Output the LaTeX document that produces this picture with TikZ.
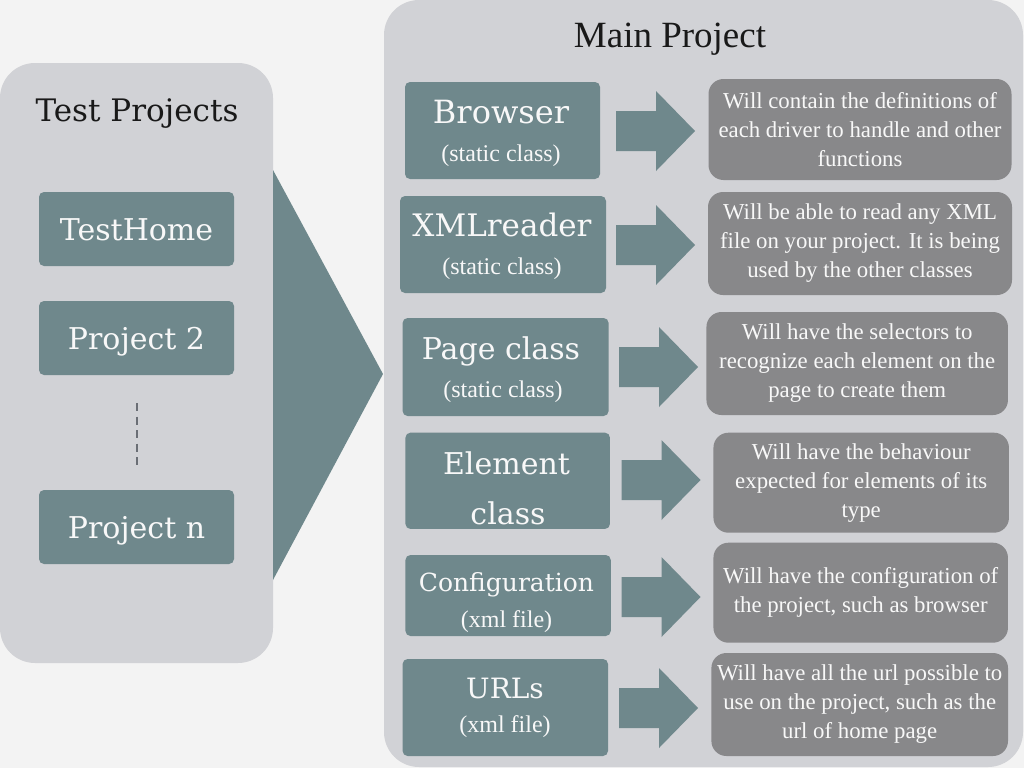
\documentclass[tikz,border=0pt]{standalone}
\usepackage{fontspec}
\setmainfont{Liberation Serif}
\newfontfamily\dvs{DejaVu Serif}
\definecolor{bgc}{HTML}{F3F3F3}
\definecolor{panelc}{HTML}{D1D2D6}
\definecolor{tealc}{HTML}{6F888C}
\definecolor{descc}{HTML}{88888A}
\definecolor{dashc}{HTML}{6A6E75}
\definecolor{lightc}{HTML}{F8F8F8}
\newcommand\blkarrow[1]{%
  \fill[blk] (#1) ++(0,-20) -- ++(40,0) -- ++(0,-20) -- ++(39,40)
    -- ++(-39,40) -- ++(0,-20) -- ++(-40,0) -- cycle;}
\begin{document}
\begin{tikzpicture}[x=1pt,y=-1pt,
  panel/.style={fill=panelc, rounded corners=35pt, inner sep=0pt},
  tbox/.style={fill=tealc, rounded corners=5pt, inner sep=0pt},
  lbox/.style={tbox, text=lightc, font=\dvs\fontsize{30}{30}\selectfont,
    text height=22pt, text depth=0pt, minimum width=195pt, minimum height=74pt},
  desc/.style={fill=descc, rounded corners=15pt, text=lightc, align=center,
    font=\fontsize{22.8}{29}\selectfont, inner sep=0pt},
  ttl/.style={text=lightc, anchor=base, inner sep=0pt},
  sub/.style={text=lightc, anchor=base, inner sep=0pt, font=\fontsize{24}{24}\selectfont},
  head/.style={text=black!90, anchor=base, inner sep=0pt},
  blk/.style={fill=tealc}
]
\fill[bgc] (0,0) rectangle (1024,768);
\useasboundingbox (0,0) rectangle (1024,768);

% panels
\node[panel, minimum width=273pt, minimum height=600pt] (left) at (136.5,363) {};
\node[panel, minimum width=639pt, minimum height=767pt] (main) at (703.5,383.5) {};

% titles
\node[head, font=\dvs\fontsize{31}{31}\selectfont] (tpt) at (137,121) {Test Projects};
\node[head, font=\fontsize{37}{37}\selectfont] (mpt) at (670,48) {Main Project};

% big triangle
\coordinate (trA) at (273,170);
\coordinate (trB) at (383,374);
\coordinate (trC) at (273,580);
\fill[tealc] (trA) -- (trB) -- (trC) -- cycle;

% left boxes
\node[lbox] (l1) at (136.5,229) {TestHome};
\node[lbox] (l2) at (136.5,338) {Project 2};
\node[lbox] (l3) at (136.5,527) {Project n};
\coordinate (dA) at (136.7,403);
\coordinate (dB) at (136.7,465);
\draw[dashc, line width=1.8pt, dash pattern=on 8pt off 5.5pt] (dA) -- (dB);

% main boxes
\node[tbox, minimum width=195pt, minimum height=97pt] (b1) at (502.5,130.5) {};
\node[tbox, minimum width=206pt, minimum height=97pt] (b2) at (503,244.5) {};
\node[tbox, minimum width=206pt, minimum height=98pt] (b3) at (505.6,367) {};
\node[tbox, minimum width=204.5pt, minimum height=96.3pt] (b4) at (507.7,480.8) {};
\node[tbox, minimum width=205.3pt, minimum height=81pt] (b5) at (508.1,595.5) {};
\node[tbox, minimum width=205.4pt, minimum height=97pt] (b6) at (505.3,707.5) {};

\node[ttl, font=\dvs\fontsize{32}{32}\selectfont] (b1t) at (501,123) {Browser};
\node[sub] (b1s) at (501,161) {(static class)};
\node[ttl, font=\dvs\fontsize{31}{31}\selectfont] (b2t) at (502,236) {XMLreader};
\node[sub] (b2s) at (502,274) {(static class)};
\node[ttl, font=\dvs\fontsize{30}{30}\selectfont] (b3t) at (501,359) {Page class};
\node[sub] (b3s) at (503,397) {(static class)};
\node[ttl, font=\dvs\fontsize{30}{30}\selectfont] (b4t) at (506.5,474) {Element};
\node[ttl, font=\dvs\fontsize{30}{30}\selectfont] (b4u) at (508,524) {class};
\node[ttl, font=\dvs\fontsize{25}{25}\selectfont] (b5t) at (506.5,591) {Configuration};
\node[sub] (b5s) at (506.5,627) {(xml file)};
\node[ttl, font=\dvs\fontsize{28}{28}\selectfont] (b6t) at (505,698) {URLs};
\node[sub] (b6s) at (505,732) {(xml file)};

% block arrows
\coordinate (a1) at (616,131);
\coordinate (a2) at (616,245);
\coordinate (a3) at (619,367);
\coordinate (a4) at (621.5,480);
\coordinate (a5) at (621.5,597);
\coordinate (a6) at (619,708);
\blkarrow{a1}\blkarrow{a2}\blkarrow{a3}\blkarrow{a4}\blkarrow{a5}\blkarrow{a6}

% description boxes
\node[desc, minimum width=303pt, minimum height=101pt] (d1) at (860,129.5)
  {Will contain the definitions of\\each driver to handle and other\\functions};
\node[desc, minimum width=304pt, minimum height=103pt] (d2) at (860,243.5)
  {Will be able to read any XML\\file on your project. It is being\\used by the other classes};
\node[desc, minimum width=301.5pt, minimum height=103pt] (d3) at (857.2,363.5)
  {Will have the selectors to\\recognize each element on the\\page to create them};
\node[desc, minimum width=295.5pt, minimum height=100pt] (d4) at (861.2,482.7)
  {Will have the behaviour\\expected for elements of its\\type};
\node[desc, minimum width=294.5pt, minimum height=100pt] (d5) at (860.7,592.7)
  {Will have the configuration of\\the project, such as browser};
\node[desc, minimum width=296.6pt, minimum height=103pt] (d6) at (859.7,704.5)
  {Will have all the url possible to\\use on the project, such as the\\url of home page};
\end{tikzpicture}
\end{document}
